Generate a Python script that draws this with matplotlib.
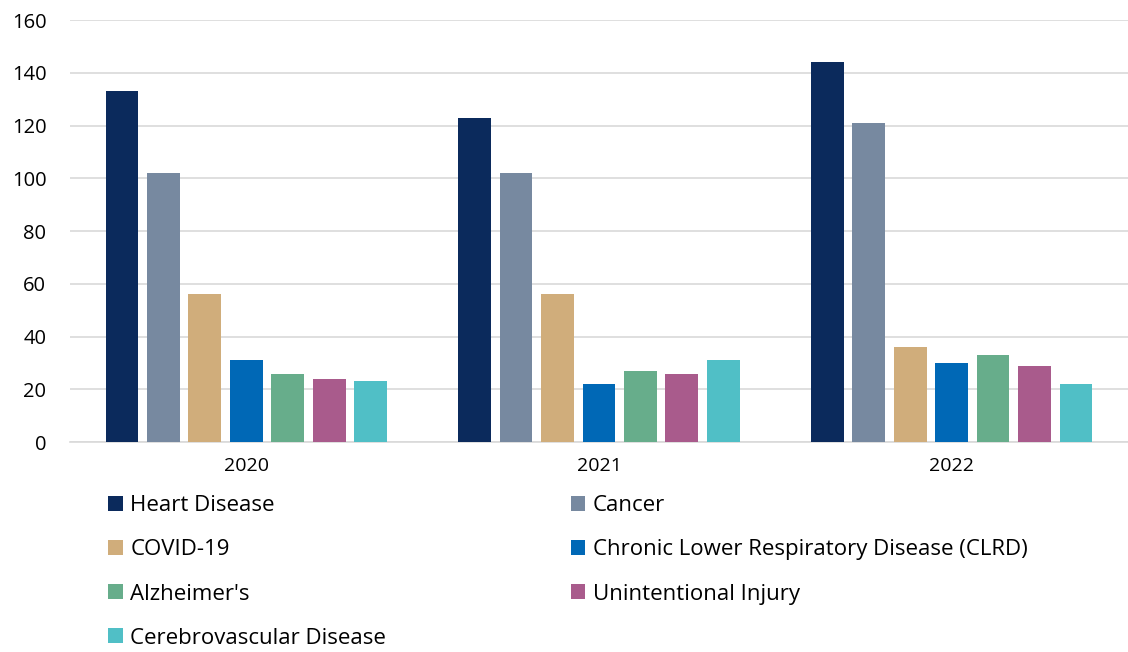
import numpy as np
import matplotlib.pyplot as plt

plt.rcParams['font.family'] = ['Open Sans', 'DejaVu Sans']

years = ['2020', '2021', '2022']
causes = ['Heart Disease', 'Cancer', 'COVID-19',
          'Chronic Lower Respiratory Disease (CLRD)', "Alzheimer's",
          'Unintentional Injury', 'Cerebrovascular Disease']

heart = [133, 123, 144]
cancer = [102, 102, 121]
covid = [56, 56, 36]
clrd = [31, 22, 30]
alzheimers = [26, 27, 33]
injury = [24, 26, 29]
cerebro = [23, 31, 22]

colors = ['#0b2a5c', '#7789a0', '#d0ad7b', '#0068b6',
          '#67ad8b', '#a95b8c', '#50bfc6']

series = [heart, cancer, covid, clrd, alzheimers, injury, cerebro]

fig = plt.figure(figsize=(11.28, 6.52), dpi=100)
ax = fig.add_axes([0.062, 0.322, 0.938, 0.647])

x = np.arange(len(years))
step = 0.1175
width = 0.093
for i, (vals, name, col) in enumerate(zip(series, causes, colors)):
    ax.bar(x + (i - 3) * step, vals, width, color=col, label=name, zorder=3)

ax.set_xlim(-0.5, 2.5)
ax.set_ylim(0, 160)
ax.set_yticks(range(0, 161, 20))
ax.set_xticks(x)
ax.set_xticklabels(years, fontsize=14)
ax.tick_params(axis='y', labelsize=14.5, length=0, pad=17)
ax.tick_params(axis='x', length=0, pad=11)
ax.grid(axis='y', color='#d9d9d9', linewidth=1.2, zorder=0)
for s in ['top', 'right', 'left']:
    ax.spines[s].set_visible(False)
ax.spines['bottom'].set_color('#d9d9d9')
ax.spines['bottom'].set_linewidth(1.2)

# legend: two columns, row-wise order
order = [0, 2, 4, 6, 1, 3, 5]
h, l = ax.get_legend_handles_labels()
leg = fig.legend([h[k] for k in order], [l[k] for k in order],
                 loc='upper left', bbox_to_anchor=(0.088, 0.254),
                 ncol=2, frameon=False, fontsize=16,
                 handlelength=0.65, handleheight=0.65, handletextpad=0.35,
                 columnspacing=8.3, labelspacing=1.04, borderaxespad=0)

fig.savefig('out.png', dpi=100)
